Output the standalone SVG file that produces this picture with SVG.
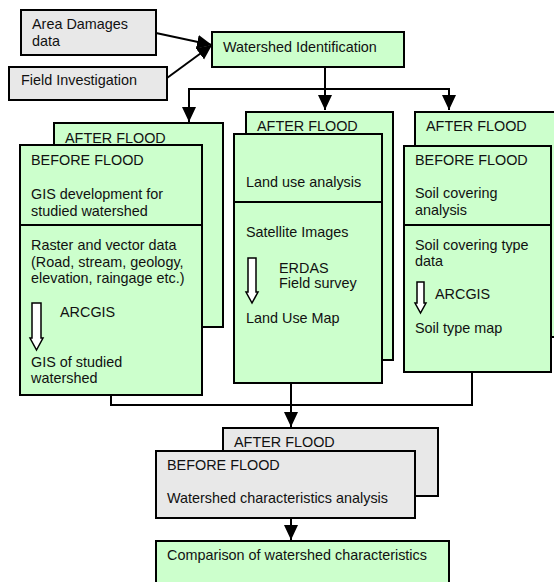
<svg xmlns="http://www.w3.org/2000/svg" width="554" height="582" viewBox="0 0 554 582">
<defs>
<style>
text{font-family:"Liberation Sans",Arial,sans-serif;font-size:14.4px;fill:#111}
.g{fill:#ccffcc;stroke:#000;stroke-width:2}
.k{fill:#e8e8e8;stroke:#000;stroke-width:2}
.ln{fill:none;stroke:#000;stroke-width:2}
.ho{fill:#fff;stroke:#000;stroke-width:1.5}
</style>
<marker id="ah" markerUnits="userSpaceOnUse" markerWidth="16" markerHeight="16" viewBox="0 0 16 16" refX="15" refY="8" orient="auto">
<path d="M0,1 L15,8 L0,15 Z" fill="#000"/>
</marker>
</defs>
<g id="area-damages"><rect class="k" x="21" y="10" width="135" height="45"/><text x="32" y="29">Area Damages</text><text x="32" y="46">data</text></g>
<g id="field-investigation"><rect class="k" x="9" y="67" width="158" height="33"/><text x="21" y="85">Field Investigation</text></g>
<g id="watershed-identification"><rect class="g" x="212" y="32" width="192" height="35"/><text x="223" y="52">Watershed Identification</text></g>
<g id="gis-after"><rect class="g" x="54" y="123" width="169" height="204"/><text x="65" y="143">AFTER FLOOD</text></g>
<g id="gis-before"><rect class="g" x="20" y="145" width="182" height="250"/><line class="ln" x1="20" y1="225" x2="202" y2="225"/>
<text x="31" y="165">BEFORE FLOOD</text><text x="31" y="199">GIS development for</text><text x="31" y="216">studied watershed</text>
<text x="31" y="250">Raster and vector data</text><text x="31" y="267">(Road, stream, geology,</text><text x="31" y="283">elevation, raingage etc.)</text>
<polygon class="ho" points="32,303 41,303 41,338 43,338 36.5,350 30,338 32,338"/><text x="60" y="317">ARCGIS</text>
<text x="31" y="367">GIS of studied</text><text x="31" y="383">watershed</text></g>
<g id="landuse-after"><rect class="g" x="246" y="112" width="147" height="248"/><text x="257" y="131">AFTER FLOOD</text></g>
<g id="landuse-before"><rect class="g" x="234" y="134" width="148" height="249"/><line class="ln" x1="234" y1="202" x2="382" y2="202"/>
<text x="246" y="187">Land use analysis</text><text x="246" y="237">Satellite Images</text>
<polygon class="ho" points="248,258 256,258 256,292 258,292 252,303 246,292 248,292"/>
<text x="279" y="273">ERDAS</text><text x="279" y="288">Field survey</text><text x="246" y="323">Land Use Map</text></g>
<g id="soil-after"><rect class="g" x="415" y="112" width="150" height="225"/><text x="426" y="131">AFTER FLOOD</text></g>
<g id="soil-before"><rect class="g" x="404" y="146" width="147" height="226"/><line class="ln" x1="404" y1="225" x2="551" y2="225"/>
<text x="415" y="165">BEFORE FLOOD</text><text x="415" y="198">Soil covering</text><text x="415" y="215">analysis</text>
<text x="415" y="250">Soil covering type</text><text x="415" y="266">data</text>
<polygon class="ho" points="417,282 424,282 424,303 426,303 420.5,313 415,303 417,303"/><text x="435" y="299">ARCGIS</text>
<text x="415" y="333">Soil type map</text></g>
<g id="analysis-after"><rect class="k" x="223" y="428" width="215" height="68"/><text x="234" y="447">AFTER FLOOD</text></g>
<g id="analysis-before"><rect class="k" x="156" y="451" width="259" height="67"/><text x="167" y="470">BEFORE FLOOD</text><text x="167" y="503">Watershed characteristics analysis</text></g>
<g id="comparison"><rect class="g" x="156" y="541" width="293" height="50"/><text x="167" y="560">Comparison of watershed characteristics</text></g>
<g id="connectors">
<line class="ln" x1="156" y1="33" x2="212" y2="45" marker-end="url(#ah)"/>
<line class="ln" x1="167" y1="78" x2="212" y2="45" marker-end="url(#ah)"/>
<path class="ln" d="M325,67 V110" marker-end="url(#ah)"/>
<path class="ln" d="M325,89 H189 V122" marker-end="url(#ah)"/>
<path class="ln" d="M325,89 H449 V110" marker-end="url(#ah)"/>
<path class="ln" d="M111,395 V405 H472 V372"/>
<path class="ln" d="M291,383 V427" marker-end="url(#ah)"/>
<path class="ln" d="M291,518 V540" marker-end="url(#ah)"/>
</g>
</svg>
